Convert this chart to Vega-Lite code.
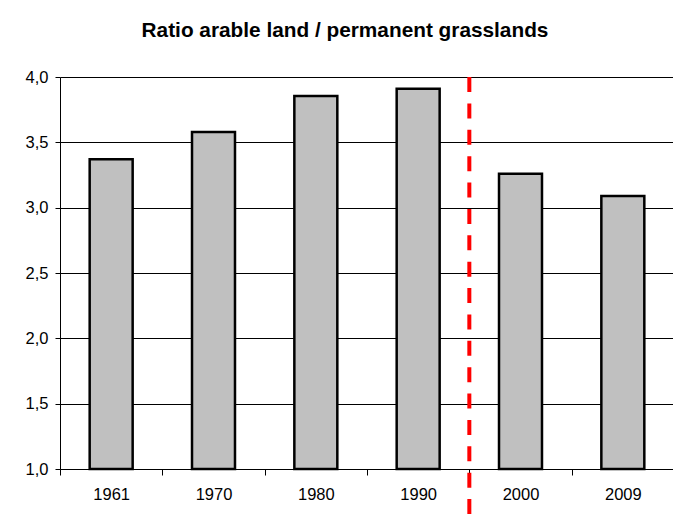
{
  "$schema": "https://vega.github.io/schema/vega-lite/v6.json",
  "width": 614,
  "height": 392,
  "autosize": {"type": "none"},
  "padding": {"left": 60, "top": 77, "right": 0, "bottom": 51},
  "background": "white",
  "title": {
    "text": "Ratio arable land / permanent grasslands",
    "font": "Liberation Sans",
    "fontSize": 20.8,
    "fontWeight": "bold",
    "color": "black",
    "anchor": "middle",
    "frame": "group",
    "dx": -22,
    "offset": 27
  },
  "data": {
    "values": [
      {"year": "1961", "ratio": 3.37},
      {"year": "1970", "ratio": 3.58},
      {"year": "1980", "ratio": 3.855},
      {"year": "1990", "ratio": 3.91},
      {"year": "2000", "ratio": 3.26},
      {"year": "2009", "ratio": 3.09}
    ]
  },
  "layer": [
    {
      "mark": {"type": "bar", "fill": "#C0C0C0", "stroke": "black", "strokeWidth": 2.5, "width": {"band": 0.42}},
      "encoding": {
        "x": {
          "field": "year", "type": "ordinal",
          "scale": {"type": "band", "paddingInner": 0, "paddingOuter": 0},
          "axis": {
            "title": null, "labelAngle": 0, "labelFont": "Liberation Sans", "labelFontSize": 16.5,
            "labelColor": "black", "domainColor": "black", "tickColor": "black",
            "tickSize": 6, "labelPadding": 11, "tickBand": "extent", "grid": false
          }
        },
        "y": {
          "field": "ratio", "type": "quantitative",
          "scale": {"domain": [1, 4], "zero": false, "nice": false},
          "axis": {
            "title": null, "values": [1, 1.5, 2, 2.5, 3, 3.5, 4], "format": ".1f",
            "labelFont": "Liberation Sans", "labelFontSize": 16.5, "labelColor": "black",
            "domainColor": "black", "tickColor": "black", "tickSize": 5, "labelPadding": 7,
            "grid": true, "gridColor": "black", "gridOpacity": 1, "gridWidth": 1
          }
        },
        "y2": {"datum": 1}
      }
    },
    {
      "data": {"values": [{"boundary": "1990", "top": 4, "bottom": 0.5}]},
      "mark": {"type": "rule", "color": "#FF0000", "strokeWidth": 4, "strokeDash": [15, 11.375]},
      "encoding": {
        "x": {"field": "boundary", "type": "ordinal", "bandPosition": 1},
        "y": {"field": "top", "type": "quantitative"},
        "y2": {"field": "bottom"}
      }
    }
  ],
  "config": {
    "view": {"stroke": null},
    "locale": {"number": {"decimal": ",", "thousands": ".", "grouping": [3], "currency": ["", " €"]}}
  }
}
